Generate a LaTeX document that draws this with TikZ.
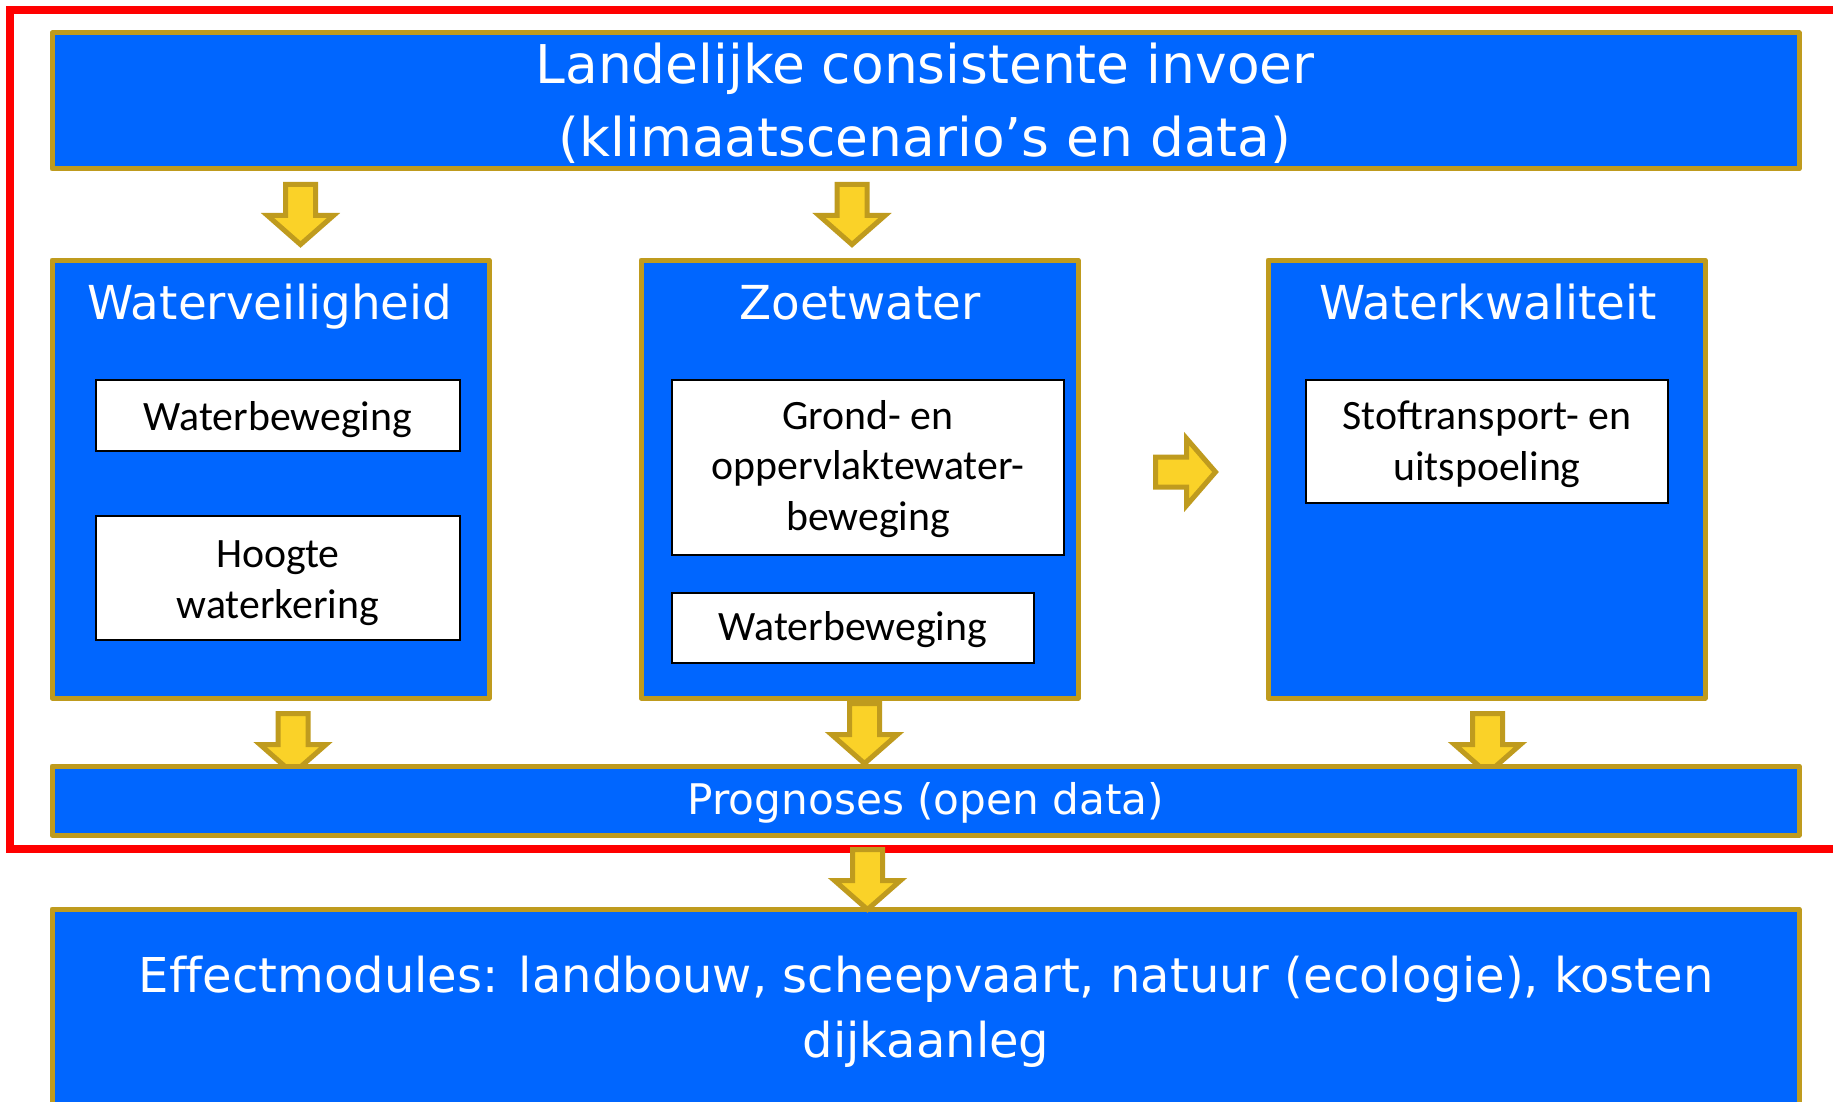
\documentclass[tikz,border=0pt]{standalone}
\usepackage{fontspec}
\setmainfont[Ligatures=NoCommon]{DejaVu Sans}
\newfontfamily\calib{Carlito}
\usetikzlibrary{fit}
\definecolor{bblue}{RGB}{0,102,255}
\definecolor{bgold}{RGB}{191,155,30}
\definecolor{byellow}{RGB}{250,210,40}
\definecolor{bred}{RGB}{255,0,0}
\begin{document}
\begin{tikzpicture}[x=0.5pt,y=-0.5pt,
  bluebox/.style={draw=bgold, line width=2.5pt, fill=bblue, inner sep=0pt, line join=round},
  whitebox/.style={draw=black, line width=1pt, fill=white, inner sep=0pt},
  wtext/.style={text=white, inner sep=0pt, anchor=base, align=center},
  ktext/.style={text=black, inner sep=0pt, anchor=base, align=center, font=\calib\fontsize{20.9pt}{25.2pt}\selectfont},
  blk/.style={draw=bgold, line width=2.5pt, fill=byellow, line join=miter},
  pics/downarrow/.style={code={\path[blk] (-15,-63.5) -- (15,-63.5) -- (15,-32.5) -- (33,-32.5) -- (0,-3.5) -- (-33,-32.5) -- (-15,-32.5) -- cycle;}},
  pics/rightarrow/.style={code={\path[blk] (-63.5,-15) -- (-32.5,-15) -- (-32.5,-33.5) -- (-3.5,0) -- (-32.5,33.5) -- (-32.5,15) -- (-63.5,15) -- cycle;}},
]
\useasboundingbox (0,0) rectangle (1833,1102);
\clip (0,0) rectangle (1833,1102);
\fill[white] (0,0) rectangle (1833,1102);

% red frame
\node[draw=bred, line width=4pt, inner sep=0pt, fit={(10,10)(1870,849)}] (frame) {};

% top box
\node[bluebox, fit={(52,33)(1799,169)}] (top) {};
\node[wtext, font=\fontsize{26.7pt}{36pt}\selectfont] (toptext) at (925,156) {Landelijke consistente invoer\\(klimaatscenario’s en data)};

\pic (a1) at (300.5,248) {downarrow};
\pic (a2) at (852,248) {downarrow};

% three columns
\node[bluebox, fit={(52,260)(489,698)}] (wv) {};
\node[bluebox, fit={(641,260)(1078,698)}] (zw) {};
\node[bluebox, fit={(1268,260)(1705,698)}] (wk) {};
\node[wtext, font=\fontsize{23.4pt}{28pt}\selectfont] (wvt) at (270,319) {Waterveiligheid};
\node[wtext, font=\fontsize{23.4pt}{28pt}\selectfont] (zwt) at (860,319) {Zoetwater};
\node[wtext, font=\fontsize{23.4pt}{28pt}\selectfont] (wkt) at (1488,319) {Waterkwaliteit};

\node[whitebox, fit={(96,380)(460,451)}] (wb1) {};
\node[ktext] (wb1t) at (278,430) {Waterbeweging};
\node[whitebox, fit={(96,516)(460,640)}] (hw) {};
\node[ktext] (hwt) at (278,618) {Hoogte\\waterkering};

\node[whitebox, fit={(672,380)(1064,555)}] (gr) {};
\node[ktext] (grt) at (868,530) {Grond- en\\oppervlaktewater-\\beweging};
\node[whitebox, fit={(672,593)(1034,663)}] (wb2) {};
\node[ktext] (wb2t) at (853,640) {Waterbeweging};

\node[whitebox, fit={(1306,380)(1668,503)}] (st) {};
\node[ktext] (stt) at (1487,480) {Stoftransport- en\\uitspoeling};

\pic (ra) at (1219,472) {rightarrow};

% arrows into prognoses
\pic (a3) at (293,777) {downarrow};
\pic (a5) at (1487.5,777) {downarrow};

\node[bluebox, fit={(52,766)(1799,835)}] (prog) {};
\node[wtext, font=\fontsize{21.1pt}{25pt}\selectfont] (progt) at (926,814.5) {Prognoses (open data)};

\pic (a4) at (864.5,767) {downarrow};

\node[bluebox, fit={(52,909)(1799,1140)}] (eff) {};
\node[wtext, font=\fontsize{24pt}{32.5pt}\selectfont] (efft) at (926,1057) {Effectmodules: landbouw, scheepvaart, natuur (ecologie), kosten\\dijkaanleg};

\pic (a6) at (867.5,913) {downarrow};
\end{tikzpicture}
\end{document}
